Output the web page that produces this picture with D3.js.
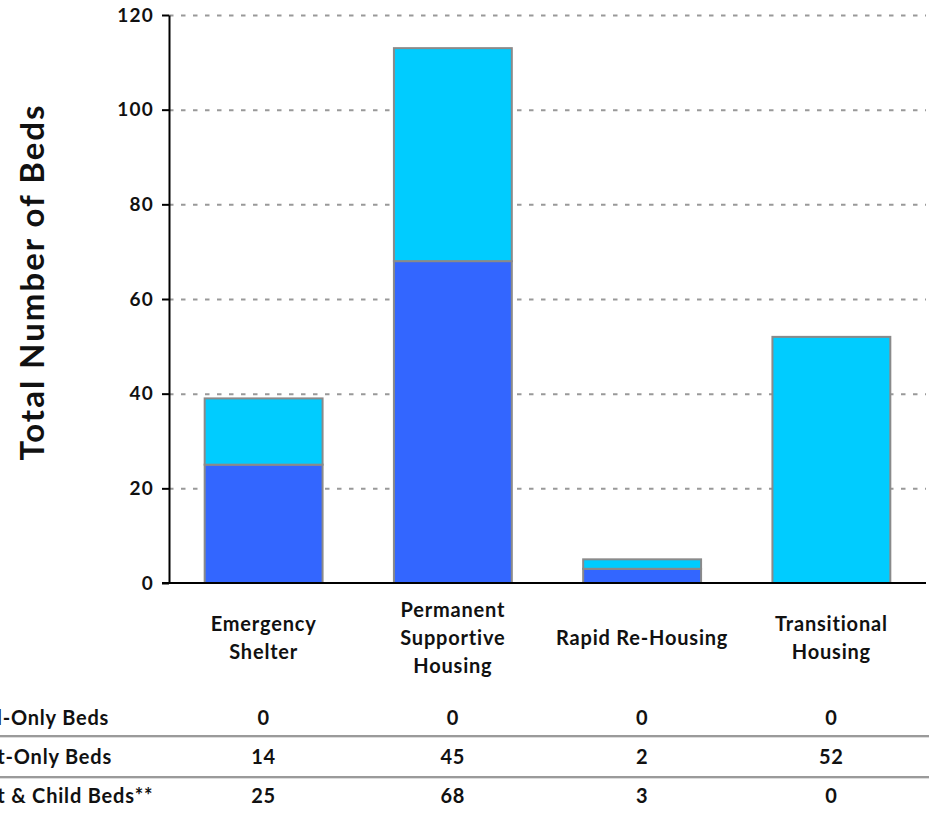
<!DOCTYPE html>
<html>
<head>
<meta charset="utf-8">
<script src="https://cdn.jsdelivr.net/npm/d3@7"></script>
<style>
  body { margin: 0; background: #fff; }
  text { font-family: Lato, "Noto Sans", sans-serif; font-weight: bold; fill: #111; }
</style>
</head>
<body>
<div id="chart"></div>
<script>
// values
const categories = ["Emergency Shelter", "Permanent Supportive Housing", "Rapid Re-Housing", "Transitional Housing"];
const categoryLines = [["Emergency", "Shelter"], ["Permanent", "Supportive", "Housing"], ["Rapid Re-Housing"], ["Transitional", "Housing"]];
const childOnly = [0, 0, 0, 0];
const adultOnly = [14, 45, 2, 52];
const adultChild = [25, 68, 3, 0];
const rowLabels = ["Child-Only Beds", "Adult-Only Beds", "Adult & Child Beds**"];
const yTicks = [0, 20, 40, 60, 80, 100, 120];

const W = 929, H = 813;
const x0 = 169, x1 = 926, yBase = 583, yTop = 15;

const svg = d3.select("#chart").append("svg")
    .attr("width", W)
    .attr("height", H);

const x = d3.scaleBand().domain(categories).range([x0, x1])
    .paddingInner(0.377).paddingOuter(0.1885);
const y = d3.scaleLinear().domain([0, 120]).range([yBase, yTop]);

// gridlines
const grid = svg.append("g")
    .attr("transform", `translate(${x0},0)`)
    .call(d3.axisLeft(y).tickValues(yTicks.slice(1)).tickSize(-(x1 - x0)).tickFormat(""));
grid.select(".domain").remove();
grid.selectAll("line")
    .attr("stroke", "#999")
    .attr("stroke-width", 2)
    .attr("stroke-dasharray", "4.5,7.5");

// stacked bars, adult & child at the bottom
const rows = categories.map((c, i) => ({ cat: c, adultChild: adultChild[i], adultOnly: adultOnly[i], childOnly: childOnly[i] }));
const stack = d3.stack().keys(["adultChild", "adultOnly", "childOnly"])(rows);
const colors = { adultChild: "#3366FF", adultOnly: "#00CCFF", childOnly: "#33CC33" };

svg.append("g").selectAll("g")
    .data(stack)
    .join("g")
    .attr("fill", d => colors[d.key])
    .selectAll("rect")
    .data(d => d.filter(s => s[1] > s[0]))
    .join("rect")
    .attr("x", d => x(d.data.cat))
    .attr("y", d => y(d[1]))
    .attr("width", x.bandwidth())
    .attr("height", d => y(d[0]) - y(d[1]))
    .attr("stroke", "#8a8a8a")
    .attr("stroke-width", 2);

// y axis
const yAxis = svg.append("g")
    .attr("transform", `translate(${x0},0)`)
    .call(d3.axisLeft(y).tickValues(yTicks).tickSize(7).tickSizeOuter(0).tickPadding(8));
yAxis.select(".domain").attr("stroke", "#000").attr("stroke-width", 2);
yAxis.selectAll("line").attr("stroke", "#000").attr("stroke-width", 2);
yAxis.selectAll("text")
    .attr("font-size", 19)
    .attr("letter-spacing", 1.2)
    .attr("fill", "#111");

// baseline
svg.append("line")
    .attr("x1", x0 - 7).attr("x2", x1)
    .attr("y1", yBase).attr("y2", yBase)
    .attr("stroke", "#000").attr("stroke-width", 2);

// y title
svg.append("text")
    .attr("transform", `translate(44,282) rotate(-90)`)
    .attr("text-anchor", "middle")
    .attr("font-size", 33)
    .attr("letter-spacing", 2)
    .text("Total Number of Beds");

// category labels
const lineH = 28;
categoryLines.forEach((lines, i) => {
  const cx = x(categories[i]) + x.bandwidth() / 2;
  const t = svg.append("text")
      .attr("text-anchor", "middle")
      .attr("font-size", 20)
      .attr("letter-spacing", 0.8);
  lines.forEach((s, j) => {
    t.append("tspan")
        .attr("x", cx)
        .attr("y", 645 + (j - (lines.length - 1) / 2) * lineH)
        .text(s);
  });
});

// data table below the chart
const tableRows = [childOnly, adultOnly, adultChild];
const rowY = [725, 764, 803];
const sepY = [736, 777];

sepY.forEach(yy => {
  svg.append("line").attr("x1", 0).attr("x2", W).attr("y1", yy).attr("y2", yy)
      .attr("stroke", "#9a9a9a").attr("stroke-width", 2);
  svg.append("line").attr("x1", 0).attr("x2", W).attr("y1", yy + 1.5).attr("y2", yy + 1.5)
      .attr("stroke", "#dcdcdc").attr("stroke-width", 1);
});

// row labels share a left edge that sits off the page
const probe = svg.append("text").attr("font-size", 20).attr("letter-spacing", 0.8).text(rowLabels[1]);
const labelX = 112 - probe.node().getComputedTextLength();
probe.remove();

rowLabels.forEach((lab, r) => {
  svg.append("text")
      .attr("x", labelX)
      .attr("y", rowY[r])
      .attr("font-size", 20)
      .attr("letter-spacing", 0.8)
      .text(lab);
  svg.append("g").selectAll("text")
      .data(tableRows[r])
      .join("text")
      .attr("x", (d, i) => x(categories[i]) + x.bandwidth() / 2)
      .attr("y", rowY[r])
      .attr("text-anchor", "middle")
      .attr("font-size", 20)
      .attr("letter-spacing", 0.8)
      .text(d => d);
});
</script>
</body>
</html>
